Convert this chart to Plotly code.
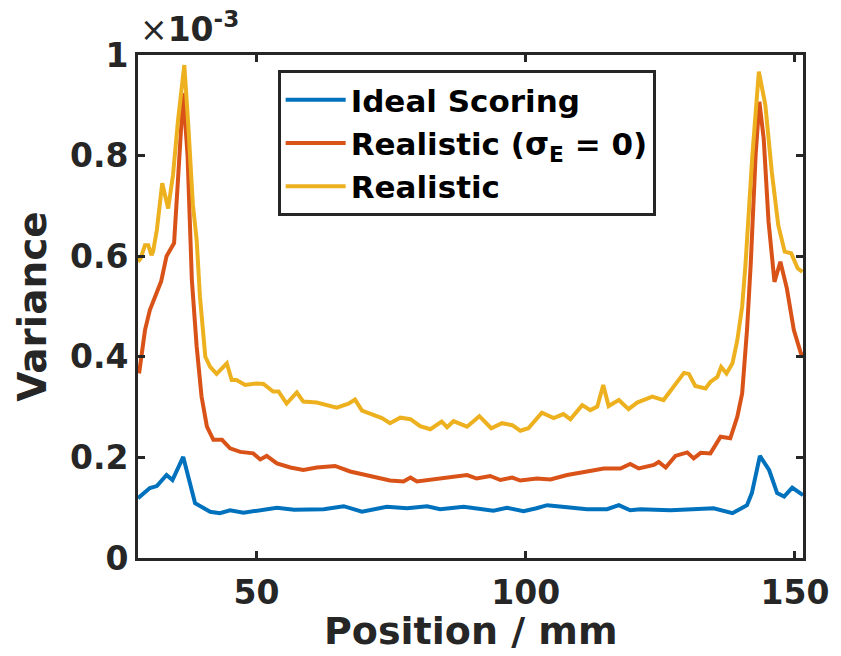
import plotly.graph_objects as go

# Variance profiles across the detector position (values in units of 1e-3)
pos_ideal = [28.0, 30.2, 31.5, 33.3, 34.4, 36.4, 38.6, 41.4, 43.2, 45.1, 47.6, 50.5,
             53.8, 57.0, 60.0, 62.5, 66.2, 69.6, 74.2, 78.0, 81.7, 84.1, 88.5, 91.0,
             94.0, 96.5, 99.6, 102.0, 104.0, 107.7, 111.4, 115.1, 117.3, 119.4, 121.3,
             124.0, 126.9, 131.0, 134.9, 138.4, 141.1, 142.0, 143.5, 145.2, 146.7,
             148.0, 149.5, 151.5]
var_ideal = [0.119, 0.139, 0.143, 0.165, 0.155, 0.201, 0.109, 0.092, 0.089, 0.095,
             0.090, 0.094, 0.100, 0.096, 0.097, 0.097, 0.103, 0.092, 0.102, 0.099,
             0.103, 0.097, 0.102, 0.099, 0.094, 0.100, 0.093, 0.099, 0.105, 0.101,
             0.097, 0.097, 0.105, 0.095, 0.097, 0.096, 0.095, 0.097, 0.099, 0.089,
             0.105, 0.129, 0.203, 0.175, 0.129, 0.122, 0.140, 0.125]

pos_real0 = [28.2, 28.8, 29.3, 30.2, 30.8, 31.7, 32.3, 33.3, 34.0, 34.7, 35.4, 36.4,
             37.2, 38.0, 38.9, 39.8, 40.8, 42.0, 43.6, 45.1, 47.0, 49.4, 50.7, 51.9,
             53.8, 56.3, 58.7, 60.0, 61.2, 64.6, 67.4, 71.1, 74.8, 77.3, 78.6, 79.8,
             84.1, 89.1, 90.9, 93.4, 95.3, 97.5, 99.0, 102.1, 104.6, 107.7, 111.4,
             114.5, 117.6, 119.4, 121.0, 123.8, 124.7, 126.0, 127.8, 130.0, 131.2,
             132.5, 134.3, 136.2, 138.0, 139.3, 140.2, 141.1, 141.8, 142.7, 143.4,
             144.2, 145.1, 146.2, 147.3, 148.5, 149.8, 151.1, 151.5]
var_real0 = [0.367, 0.420, 0.453, 0.493, 0.510, 0.530, 0.550, 0.600, 0.615, 0.626,
             0.748, 0.924, 0.801, 0.553, 0.420, 0.321, 0.261, 0.235, 0.235, 0.218,
             0.211, 0.208, 0.196, 0.203, 0.188, 0.180, 0.175, 0.178, 0.180, 0.183,
             0.172, 0.163, 0.154, 0.152, 0.160, 0.152, 0.158, 0.165, 0.158, 0.163,
             0.155, 0.160, 0.154, 0.158, 0.156, 0.165, 0.172, 0.178, 0.178, 0.187,
             0.178, 0.185, 0.191, 0.180, 0.203, 0.210, 0.198, 0.209, 0.208, 0.241,
             0.238, 0.281, 0.327, 0.453, 0.586, 0.801, 0.907, 0.834, 0.669, 0.549,
             0.589, 0.536, 0.453, 0.407, 0.404]

pos_real = [28.0, 28.5, 29.3, 29.9, 30.5, 30.8, 31.5, 32.5, 33.6, 34.5, 35.4, 36.6,
            37.3, 38.2, 38.9, 39.5, 40.5, 41.4, 42.6, 44.5, 45.4, 46.3, 47.9, 50.1,
            51.3, 53.1, 54.1, 55.6, 57.5, 58.7, 61.2, 63.7, 64.9, 67.1, 68.3, 69.6,
            71.4, 73.3, 74.8, 76.7, 78.6, 80.4, 82.3, 84.4, 85.4, 86.6, 89.1, 91.4,
            93.6, 95.6, 97.5, 99.0, 100.5, 103.0, 105.2, 107.0, 108.3, 110.5, 112.0,
            113.3, 114.4, 115.4, 117.3, 119.1, 120.7, 123.5, 125.6, 127.5, 129.4,
            130.3, 131.5, 133.4, 134.3, 135.6, 136.3, 137.3, 138.4, 139.3, 140.2,
            140.8, 141.5, 142.1, 143.3, 144.5, 145.7, 146.9, 148.1, 149.3, 150.5,
            151.4]
var_real = [0.589, 0.596, 0.622, 0.622, 0.602, 0.609, 0.652, 0.745, 0.695, 0.761,
            0.867, 0.980, 0.867, 0.702, 0.632, 0.520, 0.400, 0.380, 0.366, 0.387,
            0.354, 0.354, 0.344, 0.347, 0.346, 0.331, 0.331, 0.307, 0.329, 0.311,
            0.309, 0.301, 0.299, 0.307, 0.315, 0.293, 0.286, 0.278, 0.268, 0.279,
            0.276, 0.262, 0.256, 0.271, 0.260, 0.272, 0.261, 0.282, 0.258, 0.268,
            0.264, 0.253, 0.258, 0.289, 0.278, 0.286, 0.276, 0.304, 0.294, 0.301,
            0.344, 0.302, 0.314, 0.296, 0.309, 0.321, 0.314, 0.341, 0.368, 0.366,
            0.342, 0.337, 0.350, 0.360, 0.380, 0.367, 0.387, 0.433, 0.500, 0.580,
            0.700, 0.801, 0.967, 0.901, 0.768, 0.662, 0.609, 0.606, 0.576, 0.569]

series_names = ["Ideal Scoring", "Realistic (σ<sub>E</sub> = 0)", "Realistic"]
series_colors = ["#0072BD", "#D95319", "#EDB120"]

x_ticks = [50, 100, 150]
y_ticks = [0, 0.2, 0.4, 0.6, 0.8, 1.0]
y_tick_text = ["0", "0.2", "0.4", "0.6", "0.8", "1"]

AXIS_COLOR = "#262626"
FONT = "DejaVu Sans"

fig = go.Figure()
for xs, ys, name, color in zip([pos_ideal, pos_real0, pos_real],
                               [var_ideal, var_real0, var_real],
                               series_names, series_colors):
    fig.add_trace(go.Scatter(x=xs, y=ys, mode="lines", name=name,
                             line=dict(color=color, width=4)))

axis_common = dict(showline=True, linecolor=AXIS_COLOR, linewidth=3,
                   mirror="ticks", ticks="inside", ticklen=7, tickwidth=3,
                   tickcolor=AXIS_COLOR, showgrid=False, zeroline=False,
                   automargin=False,
                   tickfont=dict(family=FONT, size=33, color=AXIS_COLOR,
                                 weight="bold"))

fig.update_xaxes(range=[28, 151.5], tickvals=x_ticks, ticklabelstandoff=3,
                 **axis_common)
fig.update_yaxes(range=[0, 1], tickvals=y_ticks, ticktext=y_tick_text,
                 title=dict(text="Variance", standoff=12,
                            font=dict(family=FONT, size=39, color=AXIS_COLOR,
                                      weight="bold")),
                 **axis_common)

# x-axis title placed below the tick labels, kept inside the page
fig.add_annotation(xref="paper", yref="paper", x=0.5, y=0, xanchor="center",
                   yanchor="bottom", showarrow=False, yshift=-97,
                   text="Position / mm",
                   font=dict(family=FONT, size=38, color=AXIS_COLOR,
                             weight="bold"))

# exponent label for the y axis
fig.add_annotation(xref="paper", yref="paper", x=0.0, y=1.0, xanchor="left",
                   yanchor="bottom", showarrow=False, yshift=4,
                   text="×<b>10<sup>-3</sup></b>",
                   font=dict(family=FONT, size=33, color=AXIS_COLOR))

fig.update_layout(
    width=841, height=656,
    margin=dict(l=138, r=38, t=55, b=98),
    paper_bgcolor="white", plot_bgcolor="white",
    showlegend=True,
    legend=dict(x=0.21, y=0.97, xanchor="left", yanchor="top",
                bgcolor="white", bordercolor=AXIS_COLOR, borderwidth=3,
                font=dict(family=FONT, size=31, color="black", weight="bold"),
                itemwidth=60, tracegroupgap=0),
)

fig.write_html("out.html")
